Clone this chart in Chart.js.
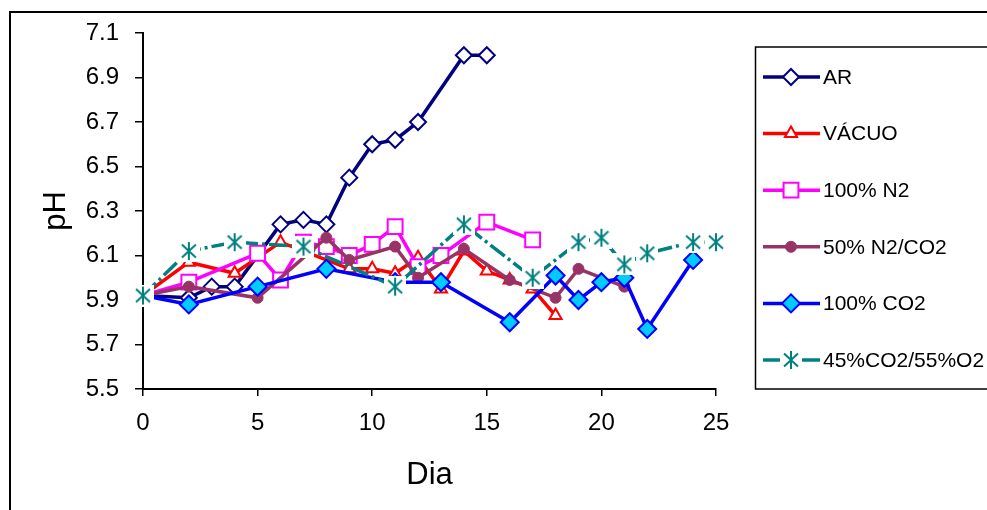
<!DOCTYPE html>
<html>
<head>
<meta charset="utf-8">
<script src="https://cdn.jsdelivr.net/npm/chart.js@4.4.1/dist/chart.umd.min.js"></script>
<style>
    html, body { margin: 0; padding: 0; background: #fff; }
    #wrap { position: relative; width: 987px; height: 510px; overflow: hidden; }
    #frame { position: absolute; left: 9px; top: 11px; width: 1000px; height: 520px;
             border-left: 2px solid #000; border-top: 2px solid #000; pointer-events: none; }
</style>
</head>
<body>
<div id="wrap">
    <canvas id="phChart" width="987" height="510"></canvas>
    <div id="frame"></div>
</div>
<script>
// dias e valores de pH
var arDias = [0, 2, 3, 4, 6, 7, 8, 9, 10, 11, 12, 14, 15];
var arPH = [5.92, 5.91, 5.96, 5.96, 6.24, 6.26, 6.24, 6.45, 6.60, 6.62, 6.70, 7.00, 7.00];

var vacuoDias = [0, 2, 4, 6, 9, 10, 11, 12, 13, 14, 15, 16, 17, 18];
var vacuoPH = [5.92, 6.07, 6.02, 6.16, 6.04, 6.04, 6.02, 6.09, 5.95, 6.12, 6.03, 5.99, 5.95, 5.83];

var n2Dias = [0, 2, 5, 6, 7, 8, 9, 10, 11, 12, 13, 15, 17];
var n2PH = [5.92, 5.98, 6.11, 5.99, 6.16, 6.14, 6.10, 6.15, 6.23, 6.05, 6.10, 6.25, 6.17];

var n2co2Dias = [0, 2, 5, 8, 9, 11, 12, 14, 16, 18, 19, 21];
var n2co2PH = [5.92, 5.96, 5.91, 6.18, 6.08, 6.14, 6.00, 6.13, 5.99, 5.91, 6.04, 5.96];

var co2Dias = [0, 2, 5, 8, 11, 13, 16, 18, 19, 20, 21, 22, 24];
var co2PH = [5.92, 5.88, 5.96, 6.04, 5.98, 5.98, 5.80, 6.01, 5.90, 5.98, 6.00, 5.77, 6.08];

var o2Dias = [0, 2, 4, 7, 11, 14, 17, 19, 20, 21, 22, 24, 25];
var o2PH = [5.92, 6.12, 6.16, 6.14, 5.96, 6.24, 6.00, 6.16, 6.18, 6.06, 6.11, 6.16, 6.16];

var yTicks = [5.5, 5.7, 5.9, 6.1, 6.3, 6.5, 6.7, 6.9, 7.1];

var fonte = '"Liberation Sans", Arial, sans-serif';

function pares(dias, vals) {
    return dias.map(function (d, i) { return { x: d, y: vals[i] }; });
}

// marcador estrela do Excel: caixa branca com asterisco
var estrela = document.createElement('canvas');
estrela.width = 22;
estrela.height = 22;
(function () {
    var c = estrela.getContext('2d');
    c.fillStyle = '#fff';
    c.fillRect(0, 0, 22, 22);
    c.strokeStyle = '#008080';
    c.lineWidth = 2;
    c.beginPath();
    c.moveTo(11, 2); c.lineTo(11, 20);
    c.moveTo(4, 4.5); c.lineTo(18, 17.5);
    c.moveTo(18, 4.5); c.lineTo(4, 17.5);
    c.stroke();
})();

var legendaCaixa = {
    id: 'legendaCaixa',
    afterDraw: function (chart) {
        var ctx = chart.ctx;
        ctx.save();
        ctx.strokeStyle = '#000';
        ctx.lineWidth = 1.5;
        ctx.strokeRect(755.5, 47, 300, 342);
        chart.data.datasets.forEach(function (ds, i) {
            var y = 77 + i * 56.6;
            ctx.setLineDash([]);
            ctx.strokeStyle = ds.borderColor;
            ctx.lineWidth = ds.borderWidth;
            ctx.beginPath();
            ctx.moveTo(763, y);
            ctx.lineTo(820, y);
            ctx.stroke();
            ctx.fillStyle = ds.pointBackgroundColor;
            ctx.strokeStyle = ds.pointBorderColor;
            ctx.lineWidth = ds.pointBorderWidth;
            Chart.helpers.drawPoint(ctx, {
                pointStyle: ds.pointStyle,
                radius: ds.pointRadius,
                borderWidth: ds.pointBorderWidth,
                rotation: 0
            }, 791, y);
            ctx.fillStyle = '#000';
            ctx.font = '21px ' + fonte;
            ctx.textBaseline = 'middle';
            ctx.textAlign = 'left';
            ctx.fillText(ds.label, 823, y + 1);
        });
        ctx.restore();
    }
};

var ctx = document.getElementById('phChart').getContext('2d');
var phChart = new Chart(ctx, {
    type: 'line',
    data: {
        datasets: [
            {
                label: 'AR', data: pares(arDias, arPH), order: 6,
                borderColor: '#000080', borderWidth: 3.5,
                pointStyle: 'rectRot', pointRadius: 8, pointBorderWidth: 2,
                pointBackgroundColor: '#fff', pointBorderColor: '#000080'
            },
            {
                label: 'VÁCUO', data: pares(vacuoDias, vacuoPH), order: 5,
                borderColor: '#ff0000', borderWidth: 3.5,
                pointStyle: 'triangle', pointRadius: 7, pointBorderWidth: 2,
                pointBackgroundColor: '#fff', pointBorderColor: '#ff0000'
            },
            {
                label: '100% N2', data: pares(n2Dias, n2PH), order: 4,
                borderColor: '#ff00ff', borderWidth: 3.5,
                pointStyle: 'rect', pointRadius: 10.5, pointBorderWidth: 2,
                pointBackgroundColor: '#fff', pointBorderColor: '#ff00ff'
            },
            {
                label: '50% N2/CO2', data: pares(n2co2Dias, n2co2PH), order: 3,
                borderColor: '#993366', borderWidth: 3.5,
                pointStyle: 'circle', pointRadius: 5.5, pointBorderWidth: 1,
                pointBackgroundColor: '#993366', pointBorderColor: '#993366'
            },
            {
                label: '100% CO2', data: pares(co2Dias, co2PH), order: 2,
                borderColor: '#0000ff', borderWidth: 3.5,
                pointStyle: 'rectRot', pointRadius: 9, pointBorderWidth: 2,
                pointBackgroundColor: '#00ccff', pointBorderColor: '#0000ff'
            },
            {
                label: '45%CO2/55%O2', data: pares(o2Dias, o2PH), order: 1,
                borderColor: '#008080', borderWidth: 3.5, borderDash: [18, 4, 3, 4],
                pointStyle: estrela, pointRadius: 10, pointBorderWidth: 0,
                pointBackgroundColor: '#fff', pointBorderColor: '#008080'
            }
        ]
    },
    options: {
        responsive: false,
        animation: false,
        datasets: { line: { tension: 0, fill: false, clip: false } },
        layout: { padding: { left: 0, top: 33, right: 271, bottom: 0 } },
        plugins: { legend: { display: false }, tooltip: { enabled: false } },
        scales: {
            x: {
                type: 'linear', min: 0, max: 25,
                ticks: { stepSize: 5, color: '#000', font: { family: fonte, size: 24 }, padding: 13, maxRotation: 0 },
                grid: { drawOnChartArea: false, color: '#000', lineWidth: 1.5, tickLength: 7 },
                border: { color: '#000', width: 2 },
                title: { display: true, text: 'Dia', color: '#000', font: { family: fonte, size: 31 }, padding: { top: 0, bottom: 16 } },
                afterFit: function (s) { s.height = 121; }
            },
            y: {
                type: 'linear', min: 5.5, max: 7.1,
                afterBuildTicks: function (s) { s.ticks = yTicks.map(function (v) { return { value: v }; }); },
                ticks: {
                    color: '#000', font: { family: fonte, size: 24 }, padding: 16,
                    callback: function (v) { return Number(v).toFixed(1); }
                },
                grid: { drawOnChartArea: false, color: '#000', lineWidth: 1.5, tickLength: 8 },
                border: { color: '#000', width: 2 },
                title: { display: true, text: 'pH', color: '#000', font: { family: fonte, size: 31 }, padding: { top: 38, bottom: 0 } },
                afterFit: function (s) { s.width = 143; }
            }
        }
    },
    plugins: [legendaCaixa]
});
</script>
</body>
</html>
